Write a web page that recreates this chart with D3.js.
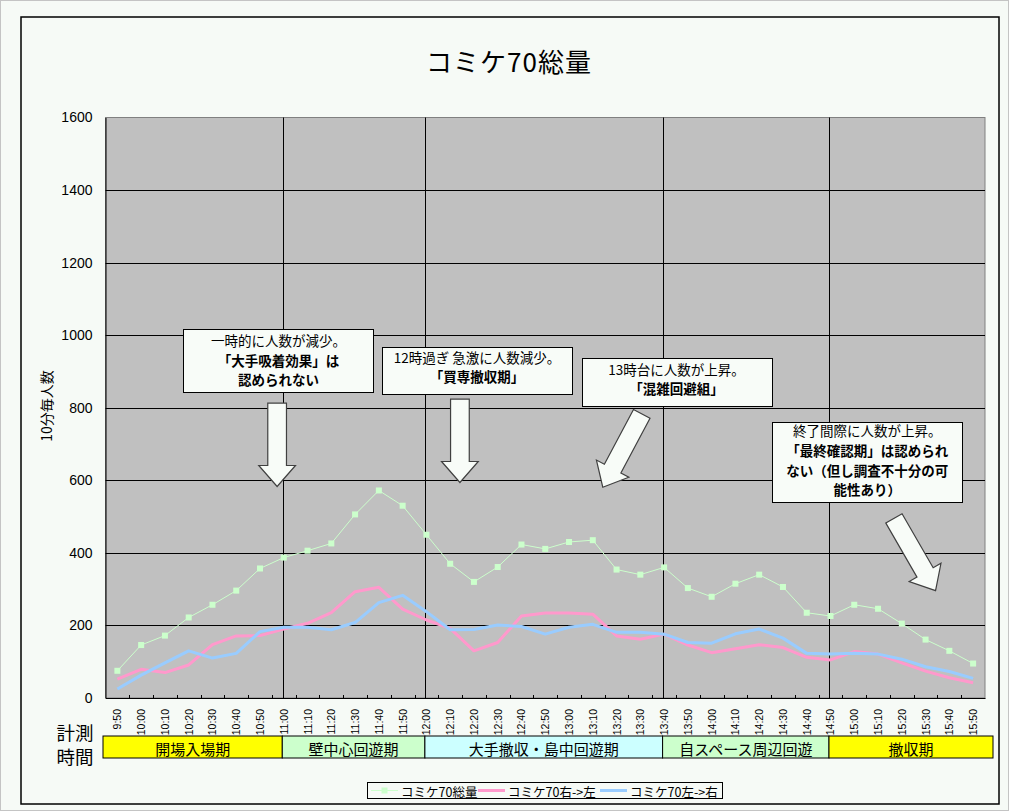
<!DOCTYPE html>
<html><head><meta charset="utf-8">
<script src="https://cdn.jsdelivr.net/npm/d3@7"></script>
<style>
html,body{margin:0;padding:0;background:#F6FAF6;}
svg{display:block;}
</style></head>
<body>
<script>
// ---------- DATA ----------
const chartTitle = "コミケ70総量";
const yAxisTitle = "10分毎人数";
const times = ["9:50","10:00","10:10","10:20","10:30","10:40","10:50","11:00","11:10","11:20","11:30","11:40","11:50","12:00",
  "12:10","12:20","12:30","12:40","12:50","13:00","13:10","13:20","13:30","13:40",
  "13:50","14:00","14:10","14:20","14:30","14:40","14:50",
  "15:00","15:10","15:20","15:30","15:40","15:50"];
const seriesNames = ["コミケ70総量","コミケ70右->左","コミケ70左->右"];
const total = [75,146,172,222,257,296,357,387,406,426,506,572,530,450,
  370,320,361,423,411,430,435,354,340,360,
  303,279,315,340,306,235,226,
  257,246,205,161,130,95];
const rightToLeft = [52,79,70,91,147,171,172,190,206,235,293,305,245,215,
  192,130,153,226,234,234,231,171,162,176,
  146,125,136,147,139,112,105,
  128,121,97,74,56,42];
const leftToRight = [25,63,97,130,110,123,183,195,195,188,208,263,283,238,
  188,189,201,197,176,195,203,181,181,176,
  153,151,177,190,165,123,121,
  123,121,107,86,73,54];
const yTicks = [0,200,400,600,800,1000,1200,1400,1600];
const periodNames = ["開場入場期","壁中心回遊期","大手撤収・島中回遊期","自スペース周辺回遊","撤収期"];
const periodBounds = ["11:00","12:00","13:40","14:50"];
const timeLabel = ["計測","時間"];
// annotations: box corners & arrows in data units (fractional category index, value)
const notes = [
  {box:[2.78,1017,10.77,843], lines:["一時的に人数が減少。","「大手吸着効果」は","認められない"], bold:[0,1,1], arrow:[6.72,813,6.72,583]},
  {box:[11.14,968,19.12,839], lines:["12時過ぎ 急激に人数減少。","「買専撤収期」"], bold:[0,1], arrow:[14.41,824,14.41,594]},
  {box:[19.53,937,27.52,806], lines:["13時台に人数が上昇。","「混雑回避組」"], bold:[0,1], arrow:[22.06,783,20.42,581]},
  {box:[27.55,761,35.54,540], lines:["終了間際に人数が上昇。","「最終確認期」は認められ","ない（但し調査不十分の可","能性あり）"], bold:[0,1,1,1], arrow:[32.67,495,34.42,296]}
];

// ---------- STYLE / LAYOUT ----------
const W = 1009, H = 811;
const plot = {l:105.5, r:985, t:117.5, b:698};
const colors = {bg:"#F6FAF6", plot:"#C0C0C0", total:"#CCFFCC", r2l:"#FF99CC", l2r:"#99CCFF"};
const periodColors = ["#FFFF00","#CCFFCC","#CCFFFF","#CCFFCC","#FFFF00"];
const jp = "'Noto Sans CJK JP','Noto Sans',sans-serif";
const num = "'Liberation Sans',Arial,sans-serif";

const svg = d3.select("body").append("svg").attr("width",W).attr("height",H);
svg.append("rect").attr("x",0.5).attr("y",0.5).attr("width",W-1).attr("height",H-1)
  .attr("fill",colors.bg).attr("stroke","#C4C4C4");
svg.append("rect").attr("x",21).attr("y",17).attr("width",978).attr("height",787)
  .attr("fill","none").attr("stroke","#000").attr("stroke-width",1.5);

const x = d3.scaleBand().domain(times).range([plot.l, plot.r]).padding(0);
const bw = x.bandwidth();
const cx = t => x(t) + bw/2;
const xi = d3.scaleLinear().domain([0, times.length-1]).range([cx(times[0]), cx(times[times.length-1])]);
const y = d3.scaleLinear().domain([0,1600]).range([plot.b, plot.t]);

// title
svg.append("text").attr("x",509).attr("y",72).attr("text-anchor","middle")
  .attr("font-family",jp).attr("font-size",26).attr("letter-spacing",1).attr("fill","#000").text(chartTitle);

// plot area
svg.append("rect").attr("x",plot.l).attr("y",plot.t).attr("width",plot.r-plot.l).attr("height",plot.b-plot.t)
  .attr("fill",colors.plot).attr("stroke","#808080");
// gridlines
svg.append("g").selectAll("line").data(yTicks.filter(v=>v>0 && v<1600)).join("line")
  .attr("x1",plot.l).attr("x2",plot.r).attr("y1",d=>Math.round(y(d))+0.5).attr("y2",d=>Math.round(y(d))+0.5)
  .attr("stroke","#000");
// period divider lines
svg.append("g").selectAll("line").data(periodBounds).join("line")
  .attr("x1",d=>Math.round(cx(d))-0.5).attr("x2",d=>Math.round(cx(d))-0.5)
  .attr("y1",plot.t).attr("y2",plot.b).attr("stroke","#000");

// y axis
const yAxis = d3.axisLeft(y).tickValues(yTicks).tickFormat(d3.format("d")).tickSize(0).tickPadding(13);
const gy = svg.append("g").attr("transform",`translate(${plot.l},0)`).call(yAxis);
gy.select(".domain").attr("stroke","#000");
gy.selectAll("text").attr("font-family",num).attr("font-size",14).attr("fill","#000");
svg.append("text").attr("transform","translate(52,406) rotate(-90)").attr("text-anchor","middle")
  .attr("font-family",jp).attr("font-size",14).attr("fill","#000").text(yAxisTitle);

// x axis
const xAxis = d3.axisBottom(x).tickSize(0).tickPadding(0);
const gx = svg.append("g").attr("transform",`translate(0,${plot.b})`).call(xAxis);
gx.select(".domain").attr("stroke","#000");
gx.selectAll(".tick text").attr("font-family",num).attr("font-size",10.5).attr("fill","#000")
  .attr("text-anchor","end").attr("dy",null).attr("y",null)
  .attr("transform","translate(0,11) rotate(-90)").attr("dominant-baseline","central");
// inside ticks at category boundaries
svg.append("g").selectAll("line").data(times.slice(1)).join("line")
  .attr("x1",d=>Math.round(x(d))+0.5).attr("x2",d=>Math.round(x(d))+0.5)
  .attr("y1",plot.b-3).attr("y2",plot.b).attr("stroke","#000");

// series lines
const line = d3.line().x((d,i)=>cx(times[i])).y(d=>y(d));
svg.append("path").datum(total).attr("d",line).attr("fill","none").attr("stroke",colors.total).attr("stroke-width",1);
svg.append("g").selectAll("rect").data(total).join("rect")
  .attr("x",(d,i)=>cx(times[i])-3).attr("y",d=>y(d)-3).attr("width",6).attr("height",6)
  .attr("fill",colors.total);
svg.append("path").datum(rightToLeft).attr("d",line).attr("fill","none").attr("stroke",colors.r2l)
  .attr("stroke-width",3).attr("stroke-linejoin","round");
svg.append("path").datum(leftToRight).attr("d",line).attr("fill","none").attr("stroke",colors.l2r)
  .attr("stroke-width",3).attr("stroke-linejoin","round");

// annotations
function arrowPts(x1,y1,x2,y2,sw,hw,hl){
  const dx=x2-x1, dy=y2-y1, L=Math.hypot(dx,dy), ux=dx/L, uy=dy/L, nx=-uy, ny=ux;
  const bx=x2-ux*hl, by=y2-uy*hl;
  return [[x1+nx*sw/2,y1+ny*sw/2],[bx+nx*sw/2,by+ny*sw/2],[bx+nx*hw/2,by+ny*hw/2],[x2,y2],
          [bx-nx*hw/2,by-ny*hw/2],[bx-nx*sw/2,by-ny*sw/2],[x1-nx*sw/2,y1-ny*sw/2]];
}
const firstLine = [12, 11, 11.5, 9.6];
const lineStep = 19.6;
notes.forEach((n,k)=>{
  const bx0=xi(n.box[0]), by0=y(n.box[1]), bx1=xi(n.box[2]), by1=y(n.box[3]);
  svg.append("rect").attr("x",Math.round(bx0)+0.5).attr("y",Math.round(by0)+0.5)
    .attr("width",Math.round(bx1-bx0)).attr("height",Math.round(by1-by0))
    .attr("fill","#F8FCF8").attr("stroke","#000");
  const mx=(bx0+bx1)/2;
  n.lines.forEach((t,j)=>{
    svg.append("text").attr("x",mx).attr("y",by0+firstLine[k]+j*lineStep+5)
      .attr("text-anchor","middle").attr("font-family",jp).attr("font-size",13.5).attr("fill","#000")
      .attr("font-weight",n.bold[j]?"bold":"normal").text(t);
  });
  const a=n.arrow;
  const pts=arrowPts(xi(a[0]),y(a[1]),xi(a[2]),y(a[3]),18.7,36.7,21);
  svg.append("polygon").attr("points",pts.map(p=>p.join(",")).join(" "))
    .attr("fill","#F8FCF8").attr("stroke","#404040").attr("stroke-width",1.2);
});

// period band
const bandEdges = [plot.l-2.5, ...periodBounds.map(t=>cx(t)-1.5), plot.r+8];
const bandT = 736, bandB = 758;
periodNames.forEach((p,i)=>{
  svg.append("rect").attr("x",bandEdges[i]).attr("y",bandT).attr("width",bandEdges[i+1]-bandEdges[i]).attr("height",bandB-bandT)
    .attr("fill",periodColors[i]).attr("stroke","#000");
  svg.append("text").attr("x",(bandEdges[i]+bandEdges[i+1])/2).attr("y",(bandT+bandB)/2+1)
    .attr("text-anchor","middle").attr("dominant-baseline","central")
    .attr("font-family",jp).attr("font-size",15).attr("fill","#000").text(p);
});
svg.append("text").attr("x",75).attr("y",740).attr("text-anchor","middle")
  .attr("font-family",jp).attr("font-size",18.5).attr("fill","#000").text(timeLabel[0]);
svg.append("text").attr("x",75).attr("y",764).attr("text-anchor","middle")
  .attr("font-family",jp).attr("font-size",18.5).attr("fill","#000").text(timeLabel[1]);

// legend
const lg = svg.append("g");
lg.append("rect").attr("x",367.5).attr("y",782.5).attr("width",355).attr("height",16).attr("fill",colors.bg).attr("stroke","#000");
const legendItems = [
  {name:seriesNames[0], color:colors.total, w:1, marker:true, x0:371},
  {name:seriesNames[1], color:colors.r2l, w:3, marker:false, x0:478},
  {name:seriesNames[2], color:colors.l2r, w:3, marker:false, x0:600}
];
legendItems.forEach(it=>{
  lg.append("line").attr("x1",it.x0).attr("x2",it.x0+27).attr("y1",790.5).attr("y2",790.5)
    .attr("stroke",it.color).attr("stroke-width",it.w);
  if(it.marker) lg.append("rect").attr("x",it.x0+10.5).attr("y",787.5).attr("width",6).attr("height",6).attr("fill",it.color);
  lg.append("text").attr("x",it.x0+30).attr("y",791).attr("dominant-baseline","central")
    .attr("font-family",jp).attr("font-size",12.5).attr("fill","#000").text(it.name);
});
</script>
</body></html>
